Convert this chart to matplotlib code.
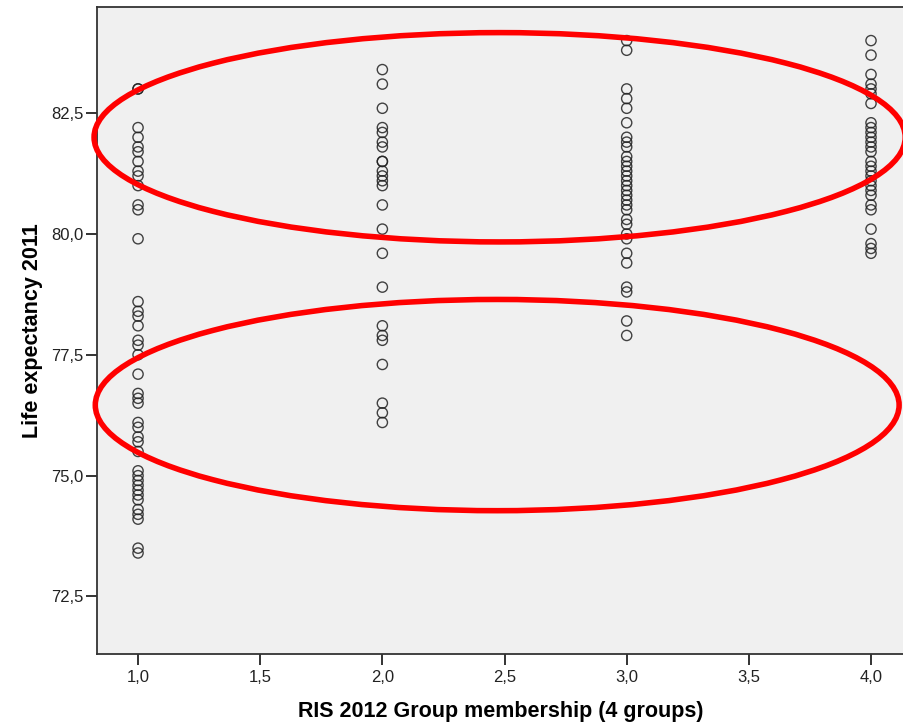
import numpy as np
import matplotlib.pyplot as plt
from matplotlib.patches import Ellipse
from matplotlib.ticker import FuncFormatter

plt.rcParams['font.family'] = ['Liberation Sans', 'DejaVu Sans']

# life expectancy per RIS group (1..4)
group_1 = [83.0, 83.0, 82.2, 82.0, 81.8, 81.7, 81.5, 81.3, 81.2, 81.0, 80.6, 80.5,
           79.9, 78.6, 78.4, 78.3, 78.1, 77.8, 77.7, 77.5, 77.1, 76.7, 76.6, 76.5,
           76.1, 76.0, 75.8, 75.7, 75.5, 75.1, 75.0, 74.9, 74.8, 74.7, 74.6, 74.5,
           74.3, 74.2, 74.1, 73.5, 73.4]
group_2 = [83.4, 83.1, 82.6, 82.2, 82.1, 81.9, 81.8, 81.5, 81.5, 81.3, 81.2, 81.1,
           81.0, 80.6, 80.1, 79.6, 78.9, 78.1, 77.9, 77.8, 77.3, 76.5, 76.3, 76.1]
group_3 = [84.0, 83.8, 83.0, 82.8, 82.6, 82.3, 82.0, 81.9, 81.8, 81.6, 81.5, 81.4,
           81.3, 81.2, 81.1, 81.0, 80.9, 80.8, 80.7, 80.6, 80.5, 80.3, 80.2, 80.0,
           79.9, 79.6, 79.4, 78.9, 78.8, 78.2, 77.9]
group_4 = [84.0, 83.7, 83.3, 83.1, 83.0, 82.9, 82.7, 82.3, 82.2, 82.1, 82.0, 81.9,
           81.8, 81.7, 81.5, 81.4, 81.3, 81.2, 81.1, 81.0, 80.9, 80.8, 80.6, 80.5,
           80.1, 79.8, 79.7, 79.6]
groups = [1.0, 2.0, 3.0, 4.0]
values = [group_1, group_2, group_3, group_4]

# highlighted bands: (x centre, y centre, width, height)
bands = [(2.48, 82.0, 3.32, 4.33), (2.47, 76.46, 3.29, 4.37)]

fig = plt.figure(figsize=(9.04, 7.24), dpi=100)
ax = fig.add_axes([0.1073, 0.096, 0.8927, 0.894])
ax.set_facecolor('#f0f0f0')

for g, v in zip(groups, values):
    ax.scatter(np.full(len(v), g), v, s=54, facecolors='none',
               edgecolors='#222222', linewidths=1.0, alpha=0.85, zorder=3)

for cx, cy, w, h in bands:
    ax.add_patch(Ellipse((cx, cy), w, h, fill=False, edgecolor='#ff0000',
                         linewidth=4, clip_on=False, zorder=5))

ax.set_xlim(0.832, 4.135)
ax.set_ylim(71.30, 84.69)
ax.set_xticks(np.arange(1.0, 4.01, 0.5))
ax.set_yticks(np.arange(72.5, 84.0, 2.5))
comma = FuncFormatter(lambda v, pos: f'{v:.1f}'.replace('.', ','))
ax.xaxis.set_major_formatter(comma)
ax.yaxis.set_major_formatter(comma)
ax.tick_params(direction='out', length=8, width=1.4, color='#333333',
               labelsize=12, labelcolor='#222222')
ax.tick_params(axis='y', pad=1.5)
ax.tick_params(axis='x', pad=3)

for side in ['left', 'bottom', 'top']:
    ax.spines[side].set_color('#333333')
    ax.spines[side].set_linewidth(1.3)
ax.spines['right'].set_visible(False)

ax.set_xlabel('RIS 2012 Group membership (4 groups)', fontsize=15.5,
              fontweight='bold', labelpad=12)
ax.set_ylabel('Life expectancy 2011', fontsize=15.5, fontweight='bold',
              labelpad=6)

fig.savefig('out.png', dpi=100)
